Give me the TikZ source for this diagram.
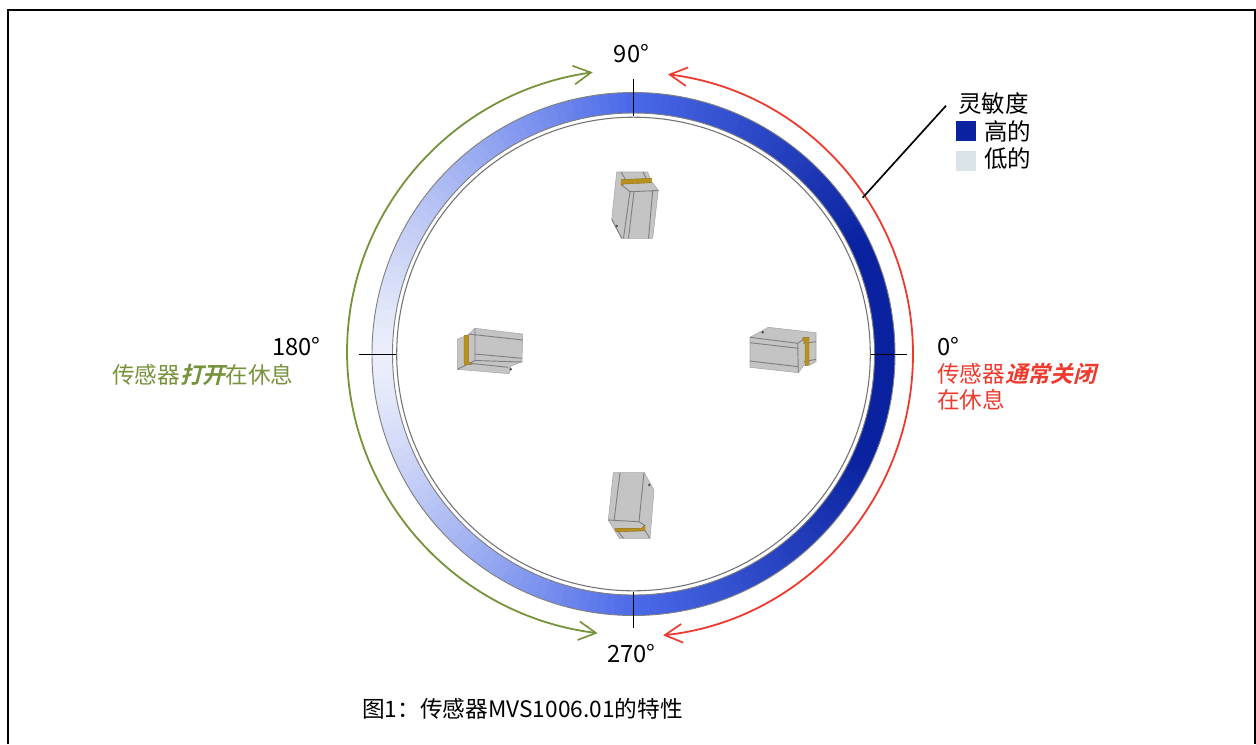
\documentclass[tikz,border=0pt]{standalone}
\usepackage{fontspec}
\setmainfont{Noto Sans CJK SC}
\newfontfamily\bifont{Noto Sans CJK SC}[BoldFont={Noto Sans CJK SC Bold},BoldFeatures={FakeSlant=0.25}]
\usetikzlibrary{arrows.meta,calc}
\definecolor{ringA}{HTML}{0A229F}
\definecolor{ringB}{HTML}{4A69E8}
\definecolor{ringC}{HTML}{ECEFFA}
\definecolor{redc}{HTML}{EE3A2E}
\definecolor{greenc}{HTML}{76933C}
\definecolor{bodyg}{HTML}{C4C4C4}
\definecolor{edgeg}{HTML}{808080}
\definecolor{goldc}{HTML}{B8901E}
\definecolor{lowc}{HTML}{D9E3E8}
\definecolor{highc}{HTML}{0A229F}
\tikzset{
 lbl/.style={inner sep=0pt,font=\fontsize{17pt}{21pt}\selectfont,text=black},
 deg/.style={inner sep=0pt,font=\fontsize{17.8pt}{21pt}\selectfont,text=black},
 tickline/.style={draw=black,line width=1.1pt},
 arcred/.style={draw=redc,line width=1.35pt,{Straight Barb[length=13pt,width=14pt,line width=1.25pt]}-{Straight Barb[length=13pt,width=14pt,line width=1.25pt]}},
 arcgreen/.style={draw=greenc,line width=1.35pt,{Straight Barb[length=13pt,width=14pt,line width=1.25pt]}-{Straight Barb[length=13pt,width=14pt,line width=1.25pt]}},
 sbody/.style={fill=bodyg,draw=edgeg!70,line width=.4pt,line join=round},
 sline/.style={draw=edgeg,line width=.7pt},
 sgold/.style={fill=goldc,draw=goldc!80!black,line width=.3pt},
 sdot/.style={fill=black!70,draw=none},
 swatch/.style={draw=none,minimum width=15pt,minimum height=15pt,inner sep=0pt},
}
\begin{document}
\begin{tikzpicture}[x=.75pt,y=-.75pt]
\useasboundingbox (0,0) rectangle (1256,744);
\fill[white] (0,0) rectangle (1256,744);
\draw[black,line width=1.5pt] (8,744) -- (8,10) -- (1255,10) -- (1255,744);
\coordinate (O) at (633.5,354);
% ring, angular gradient
\foreach \a in {0,2,...,358}{
 \pgfmathsetmacro{\d}{\a<=180?\a:360-\a}
 \pgfmathsetmacro{\mixAB}{\d<=25?100:100*(1-(\d-25)/65)}
 \pgfmathsetmacro{\mixBC}{\d>90?100*(1-(\d-90)/90)^1.25:100}
 \ifdim\d pt>90pt
  \colorlet{seg}{ringB!\mixBC!ringC}
 \else
  \colorlet{seg}{ringA!\mixAB!ringB}
 \fi
 \fill[seg] ($(O)+({\a-.3}:261.5 and -261.5)$) arc[start angle=-\a+.3,end angle=-\a-2.3,radius=261.5]
   -- ($(O)+({\a+2.3}:241 and -241)$) arc[start angle=-\a-2.3,end angle=-\a+.3,radius=241] -- cycle;
}
\draw[edgeg,line width=.7pt] (O) circle[radius=261.5];
\draw[edgeg,line width=.7pt] (O) circle[radius=241];
\draw[black!55,line width=.8pt] (O) circle[radius=236.8];
% ticks
\coordinate (tE1) at (871,354.3); \coordinate (tE2) at (907,354.3);
\coordinate (tW1) at (359,354.3); \coordinate (tW2) at (396,354.3);
\coordinate (tN1) at (633.7,79); \coordinate (tN2) at (633.7,116);
\coordinate (tS1) at (633.7,591.7); \coordinate (tS2) at (633.7,627.7);
\draw[tickline] (tE1) -- (tE2);
\draw[tickline] (tW1) -- (tW2);
\draw[tickline] (tN1) -- (tN2);
\draw[tickline] (tS1) -- (tS2);
% arcs
\coordinate (redtop) at (668,74.3);
\coordinate (greentop) at (592.7,72.3);
\draw[arcred] (redtop) arc[x radius=279.5,y radius=282.4,start angle=-82.9,end angle=83.9];
\draw[arcgreen] (greentop) arc[x radius=286.5,y radius=283,start angle=-98.2,end angle=-262.8];
% top sensor
\fill[sbody] (616.7,172) -- (647.7,172) -- (651,181) -- (658.3,190) -- (652.7,238.3) -- (621.7,238.3) -- (611.7,219.3) -- cycle;
\draw[sline] (621,172) -- (627,182) (643,172) -- (647,180);
\draw[sline] (621.7,185) -- (630,191.7) -- (658.3,190.5);
\draw[sline] (630,191.7) -- (623.5,238.3) (634,191.7) -- (628.5,238.3);
\draw[sline] (652.7,190.5) -- (648.5,238.3);
\draw[sline] (611.7,219.3) -- (621.7,238.3);
\fill[sgold] (621,179.5) -- (651.7,178.3) -- (651.7,182.7) -- (624.3,184) -- (621,185.5) -- cycle;
\fill[sdot] (616.7,226) circle[radius=1.4];
% left sensor
\fill[sbody] (457.3,339.3) -- (468,335) -- (475,328.3) -- (522.7,334) -- (522,361.7) -- (511,366) -- (509,373.7) -- (457.3,369.3) -- cycle;
\draw[sline] (468.3,334) -- (522.7,340) (475,328.3) -- (475,360.5);
\draw[sline] (475,354) -- (522,358.3) (470,363.3) -- (508.3,367.3);
\draw[sline] (457.3,369.3) -- (475,360.5) -- (522,362);
\fill[sgold] (464,335.3) -- (468.3,335.3) -- (468.3,361.7) -- (471.7,364.3) -- (465,365) -- (464,361.7) -- cycle;
\fill[sdot] (510.7,369.3) circle[radius=1.4];
% right sensor
\fill[sbody] (750,337.3) -- (768.3,327.3) -- (816,332.7) -- (816,361.7) -- (810,365) -- (804,365) -- (798.3,372.7) -- (750,367.3) -- cycle;
\draw[sline] (750,337.3) -- (797.7,343.3) -- (804,339) (750,342.7) -- (798.3,348.3) (750,361) -- (798.3,366.7);
\draw[sline] (797.7,343.3) -- (798.3,372.7) (803,343.3) -- (816,341.7) (804,361.7) -- (816,359.3);
\fill[sgold] (802.7,337.3) -- (809,337.3) -- (809,365) -- (805,365.7) -- (805,343.3) -- (802.7,339.3) -- cycle;
\fill[sdot] (762.7,332.3) circle[radius=1.4];
% bottom sensor
\fill[sbody] (613.3,472.7) -- (644.3,472.7) -- (654,490) -- (650,538.3) -- (619.3,538.3) -- (608.3,520) -- cycle;
\draw[sline] (620,472.7) -- (614,521) (644,472.7) -- (639,521.7);
\draw[sline] (608.3,520) -- (639,521.7) -- (645,525.7);
\draw[sline] (618.3,531.7) -- (623.5,538.3) (645,530.7) -- (650,538.3) (616,531) -- (645,530.7);
\fill[sgold] (615,528.3) -- (641.7,528.3) -- (645,525) -- (645,530.7) -- (616,531.7) -- cycle;
\fill[sdot] (649.3,485) circle[radius=1.4];
% leader
\coordinate (leadA) at (946,105.7); \coordinate (leadB) at (862.7,197.7);
\draw[black,line width=1.25pt] (leadA) -- (leadB);
% legend
\node[lbl,anchor=west,font=\fontsize{17.6pt}{21pt}\selectfont] (legtitle) at (958,104) {灵敏度};
\node[swatch,fill=highc] (hi) at (966,131) {};
\node[swatch,fill=lowc] (lo) at (966,161) {};
\node[lbl,anchor=west,font=\fontsize{17.6pt}{21pt}\selectfont] (hilbl) at (984,132) {高的};
\node[lbl,anchor=west,font=\fontsize{17.6pt}{21pt}\selectfont] (lolbl) at (984,159) {低的};
% labels
\node[deg] (d90) at (631.5,54) {90°};
\node[deg] (d270) at (631.5,654) {270°};
\node[deg,anchor=west] (d0) at (937,347) {0°};
\node[deg,anchor=east] (d180) at (321,347) {180°};
\node[lbl,anchor=west,text=redc] (rl1) at (937,373.5) {传感器{\bifont\bfseries 通常关闭}};
\node[lbl,anchor=west,text=redc] (rl2) at (937,400) {在休息};
\node[lbl,anchor=west,text=greenc] (gl) at (112,374.5) {传感器{\bifont\bfseries 打开}在休息};
\node[lbl,anchor=west,font=\fontsize{17pt}{21pt}\selectfont] (cap) at (362,709) {图1：传感器MVS1006.01的特性};
\end{tikzpicture}
\end{document}
